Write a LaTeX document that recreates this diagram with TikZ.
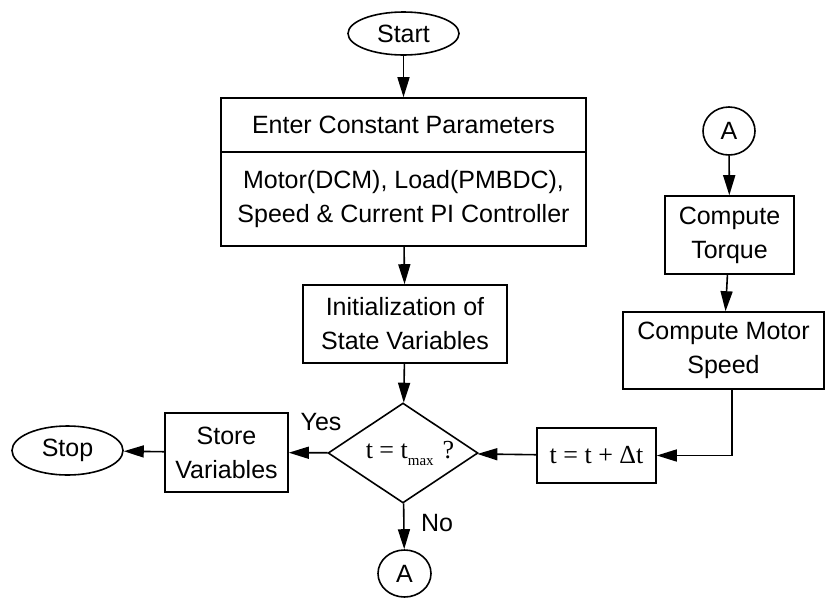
\documentclass[tikz,border=0pt]{standalone}
\usepackage{fontspec}
\setmainfont{Liberation Sans}
\newfontfamily\tms{Liberation Serif}
\usetikzlibrary{shapes.geometric,arrows.meta}
\tikzset{
  base/.style={draw=black, line width=1.6pt, inner sep=0pt, align=center,
    font=\fontsize{25}{34}\selectfont},
  boxnode/.style={base, rectangle},
  ovalnode/.style={base, ellipse},
  decnode/.style={base, diamond},
  conn/.style={line width=1.6pt, -{Triangle[length=20pt,width=12pt]}},
  lbl/.style={inner sep=0pt, font=\fontsize{25}{30}\selectfont}
}
\begin{document}
\begin{tikzpicture}[x=1pt,y=-1pt]
\useasboundingbox (0,0) rectangle (825,598);
\node[ovalnode, minimum width=111pt, minimum height=43pt] (start) at (403.5,33.5) {Start};
\node[boxnode, minimum width=365pt, minimum height=54pt] (hdr) at (403.5,125) {Enter Constant Parameters};
\node[boxnode, minimum width=365pt, minimum height=94pt] (body) at (403.5,199) {Motor(DCM), Load(PMBDC),\\Speed \& Current PI Controller};
\node[boxnode, minimum width=204pt, minimum height=78pt] (init) at (405,324) {Initialization of\\State Variables};
\node[decnode, minimum width=150pt, minimum height=100pt, aspect=1.5] (dec) at (403,453)
  {\tms\fontsize{26}{30}\selectfont\hspace{14pt}t = t\raisebox{-7pt}{\fontsize{15}{15}\selectfont max}\hspace{9pt}?};
\node[boxnode, minimum width=123pt, minimum height=79pt] (store) at (226.5,452.5) {Store\\Variables};
\node[ovalnode, minimum width=111pt, minimum height=49pt] (stop) at (67.5,450.5) {Stop};
\node[ovalnode, minimum width=53pt, minimum height=47pt] (abot) at (404.5,573.5) {A};
\node[ovalnode, minimum width=52pt, minimum height=48pt] (atop) at (729,131) {A};
\node[boxnode, minimum width=129pt, minimum height=78pt] (torque) at (729.5,235) {Compute\\Torque};
\node[boxnode, minimum width=201pt, minimum height=77pt] (speed) at (723.5,350.5) {Compute Motor\\Speed};
\node[boxnode, minimum width=119pt, minimum height=55pt] (tinc) at (596.5,455.5) {\tms\fontsize{26}{30}\selectfont t = t + Δt};
\node[lbl] (yes) at (321,422) {Yes};
\node[lbl] (no) at (437,523) {No};
\draw[conn] (start) -- (hdr);
\draw[conn] (body) -- (init);
\draw[conn] (init) -- (dec);
\draw[conn] (dec) -- (store);
\draw[conn] (store) -- (stop);
\draw[conn] (dec) -- (abot);
\draw[conn] (atop) -- (torque);
\draw[conn] (torque) -- (speed);
\draw[conn] ([xshift=8.5pt]speed.south) |- (tinc.east);
\draw[conn] (tinc) -- (dec);
\end{tikzpicture}
\end{document}
